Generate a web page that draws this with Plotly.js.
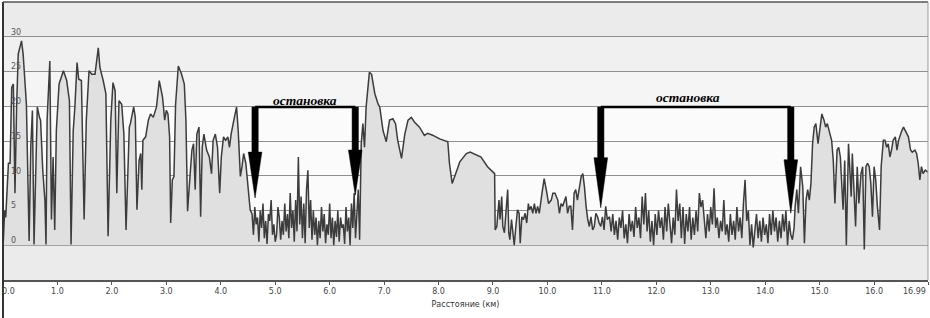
<!DOCTYPE html>
<html>
<head>
<meta charset="utf-8">
<script src="https://cdn.plot.ly/plotly-3.0.1.min.js"></script>
<style>html,body{margin:0;padding:0;background:#fff;}#chart{width:930px;height:318px;}</style>
</head>
<body>
<div id="chart"></div>
<script>
// Distance (km)
const dist = [
  0, 0.03, 0.05, 0.10, 0.13, 0.16, 0.19, 0.22, 0.25, 0.28, 0.34, 0.37, 0.43, 0.48, 0.51, 0.54, 0.57, 0.61, 0.63, 0.67, 0.69, 0.73, 0.77, 0.79, 0.81, 0.86, 0.89, 0.92, 0.95, 0.98,
  1.03, 1.11, 1.17, 1.22, 1.25, 1.29, 1.32, 1.36, 1.39, 1.44, 1.49, 1.53, 1.58, 1.63, 1.69, 1.75, 1.78, 1.84, 1.89, 1.93, 1.98,
  2.02, 2.06, 2.09, 2.13, 2.18, 2.22, 2.26, 2.28, 2.32, 2.34, 2.37, 2.40, 2.43, 2.46, 2.50, 2.53, 2.55, 2.57, 2.62, 2.67, 2.71, 2.76, 2.82, 2.87,
  2.93, 2.97, 3.00, 3.03, 3.06, 3.08, 3.11, 3.14, 3.17, 3.22, 3.28, 3.33, 3.36, 3.39, 3.43, 3.47, 3.50, 3.53, 3.56, 3.60, 3.63, 3.66,
  3.69, 3.74, 3.79, 3.83, 3.86, 3.90, 3.94, 3.98, 4.01, 4.05, 4.09, 4.13, 4.16, 4.19, 4.24, 4.29, 4.32, 4.36, 4.39, 4.42, 4.46, 4.50, 4.54,
  4.575, 4.600, 4.625, 4.650, 4.675, 4.700, 4.725, 4.750, 4.775, 4.800,
  4.825, 4.850, 4.875, 4.900, 4.925, 4.950, 4.975, 5.000, 5.025, 5.050,
  5.075, 5.100, 5.125, 5.150, 5.175, 5.200, 5.225, 5.250, 5.275, 5.300,
  5.325, 5.350, 5.375, 5.400, 5.425, 5.450, 5.475, 5.500, 5.525, 5.550,
  5.575, 5.600, 5.625, 5.650, 5.675, 5.700, 5.725, 5.750, 5.775, 5.800,
  5.825, 5.850, 5.875, 5.900, 5.925, 5.950, 5.975, 6.000, 6.025, 6.050,
  6.075, 6.100, 6.125, 6.150, 6.175, 6.200, 6.225, 6.250, 6.275, 6.300,
  6.325, 6.350, 6.375, 6.400, 6.425, 6.450, 6.475, 6.500, 6.525, 6.550,
  6.58, 6.61, 6.64, 6.67, 6.73, 6.77, 6.83, 6.89, 6.92, 6.98, 7.04, 7.10, 7.16, 7.21, 7.25, 7.32, 7.38, 7.44, 7.50, 7.56, 7.65, 7.74, 7.80, 7.90, 8.02, 8.17, 8.20, 8.25, 8.29, 8.36, 8.39,
  8.45, 8.51, 8.58, 8.66, 8.78, 8.90, 9.03,
  9.04, 9.07, 9.11, 9.13, 9.16, 9.18, 9.21, 9.24, 9.27, 9.29,
  9.31, 9.34, 9.36, 9.39, 9.42, 9.45, 9.48, 9.50, 9.53, 9.56,
  9.59, 9.62, 9.65, 9.67, 9.70, 9.73, 9.76, 9.79, 9.82, 9.85,
  9.90, 9.94, 9.99, 10.02, 10.07, 10.10, 10.14, 10.19, 10.22, 10.25,
  10.28, 10.31, 10.34, 10.37, 10.40, 10.43, 10.46, 10.49, 10.52, 10.55,
  10.59, 10.62, 10.65, 10.68, 10.71, 10.74, 10.77, 10.80, 10.83, 10.86,
  10.89, 10.92, 10.95, 10.98, 11.01, 11.04, 11.07, 11.10, 11.14,
  11.17, 11.20, 11.23, 11.26, 11.29, 11.32, 11.35, 11.38, 11.41, 11.44,
  11.47, 11.50, 11.53, 11.56, 11.59, 11.62, 11.65, 11.68, 11.71, 11.74,
  11.77, 11.80, 11.83, 11.86, 11.89, 11.92, 11.95, 11.98, 12.01, 12.04,
  12.07, 12.10, 12.13, 12.16, 12.19, 12.22, 12.25, 12.28, 12.31, 12.34,
  12.37, 12.40, 12.43, 12.46, 12.49, 12.52, 12.55, 12.58, 12.61, 12.64,
  12.67, 12.70, 12.73, 12.76, 12.79, 12.82, 12.85, 12.88, 12.91, 12.94,
  12.97, 13.00, 13.03, 13.06, 13.09, 13.12, 13.15, 13.18, 13.21, 13.24,
  13.27, 13.30, 13.33, 13.36, 13.39, 13.42, 13.45, 13.48, 13.51, 13.54,
  13.57, 13.60, 13.63, 13.66, 13.69, 13.72, 13.75, 13.78, 13.81, 13.84,
  13.87, 13.90, 13.93, 13.96, 13.99, 14.02, 14.05, 14.08, 14.11, 14.14,
  14.17, 14.20, 14.23, 14.26, 14.29, 14.32, 14.35, 14.38, 14.41, 14.44,
  14.47, 14.50,
  14.53, 14.55, 14.58, 14.61, 14.65, 14.69, 14.72, 14.75, 14.78, 14.81,
  14.84, 14.87, 14.90, 14.93, 14.97, 15.01, 15.04, 15.08, 15.11, 15.14,
  15.19, 15.22, 15.25, 15.28, 15.32, 15.35, 15.38, 15.41, 15.43, 15.46,
  15.49, 15.53, 15.55, 15.58, 15.60, 15.63, 15.66, 15.69, 15.72, 15.76,
  15.79, 15.82, 15.85, 15.88, 15.91, 15.94, 15.97, 16.00, 16.03, 16.06,
  16.10, 16.13, 16.17, 16.20, 16.23, 16.26, 16.29, 16.32, 16.35, 16.39,
  16.42, 16.45, 16.48, 16.51, 16.54, 16.58, 16.63, 16.67, 16.70, 16.75,
  16.78, 16.81, 16.84, 16.87, 16.90, 16.94, 16.98, 16.99
];
// Speed values
const speed = [
  -0.5, 5, 4, 11.8, 11.8, 22.7, 23.2, 7.5, 19.9, 27.5, 29.4, 27.5, 20.3, 0.6, 14.1, 19.4, 0.1, 14.1, 19.9, 18.4, 18, 10.8, 6.5, 0.1, 18, 26.5, 3.7, 12.7, 2.2, 16.5,
  23.2, 25.1, 23.7, 20.8, 0.1, 16.5, 19.9, 26.3, 23.9, 23.7, 3.7, 18, 25.1, 24.6, 24.6, 28.4, 25.6, 23.7, 21.8, 1.3, 18,
  23.4, 22.2, 7.5, 20.8, 20.3, 16, 2.2, 8, 17, 17.5, 18.9, 19.9, 18.4, 5.1, 12.2, 13.2, 8, 15.1, 15.6, 18, 18.9, 18.4, 19.9, 23.7,
  21.3, 18, 19.4, 18.9, 15.6, 3.2, 9.4, 9.9, 20.3, 25.8, 24.6, 23.2, 18, 4.9, 9.4, 13.7, 14.6, 8, 16, 17, 4.1, 14.1,
  16, 13.7, 12.7, 10.3, 15.1, 16, 14.1, 7.5, 12.7, 15.6, 15.1, 15.6, 14.1, 16, 18, 19.9, 16.5, 9.9, 11.3, 13.2, 11.8, 8.4, 5.1,
  4.5, 1.5, 5.5, 3.0, 4.0, 0.5, 5.0, 2.5, 6.0, 1.0,
  3.5, 0.2, 4.5, 3.5, 6.5, 1.5, 3.0, 0.5, 1.5, 5.5,
  4.0, 0.8, 3.5, 1.5, 6.0, 2.0, 4.5, 1.0, 7.5, 2.5,
  5.0, 0.5, 6.5, 2.0, 12.7, 3.0, 7.0, 1.0, 6.0, 0.3,
  8.0, 10.8, 2.5, 6.5, 0.8, 5.0, 1.5, 4.0, 0.0, 3.5,
  1.0, 5.5, 2.0, 4.5, 0.3, 3.0, 1.5, 6.0, 1.0, 4.0,
  0.0, 3.5, 1.2, 5.0, 0.5, 4.0, 2.5, 3.0, 0.2, 5.5,
  2.0, 4.0, 0.0, 6.0, 2.5, 7.5, 1.0, 5.0, 8.0, 0.8,
  14.6, 17.5, 14.1, 19.9, 24.9, 24.6, 21.8, 20.3, 19.9, 16.5, 14.9, 18, 18.2, 17.5, 15.1, 12.5, 16, 18, 18.4, 17.7, 17, 15.8, 16.1, 15.8, 15.3, 14.9, 11.8, 8.9, 9.9, 11.3, 12,
  12.6, 13.2, 13.4, 13.1, 12.7, 11.3, 10.3,
  2.2, 2.7, 6.5, 3.7, 7.0, 2.7, 1.8, 4.6, 8.0, 1.8,
  0.8, 3.7, 1.8, 0.0, 2.7, 5.1, 4.6, 0.3, 4.1, 3.7,
  4.6, 3.2, 6.0, 5.1, 5.6, 4.6, 6.0, 4.6, 5.6, 4.6,
  7.5, 9.6, 7.5, 6.0, 6.5, 7.5, 7.5, 6.5, 4.6, 6.0,
  5.6, 6.5, 7.0, 4.6, 5.6, 5.6, 2.2, 7.5, 8.0, 6.5,
  8.4, 9.9, 10.3, 8.4, 5.6, 3.7, 2.7, 4.1, 2.2, 2.7,
  4.6, 4.1, 3.2, 2.7, 4.1, 2.2, 5.6, 3.7, 4.1,
  2.0, 4.5, 1.5, 3.5, 0.8, 4.0, 2.5, 5.0, 1.0, 3.0,
  0.3, 4.5, 2.0, 3.5, 1.2, 5.5, 2.5, 4.0, 1.0, 7.0,
  3.0, 7.5, 2.0, 5.0, 0.5, 3.5, 0.0, 4.5, 1.5, 5.0,
  2.5, 4.0, 0.8, 5.5, 2.0, 6.0, 3.0, 0.3, 4.0, 1.5,
  8.0, 3.5, 6.0, 1.0, 5.5, 0.2, 4.5, 2.0, 5.5, 0.8,
  4.0, 1.5, 5.0, 2.0, 7.5, 5.5, 6.5, 3.0, 1.0, 4.5,
  2.0, 5.5, 3.0, 8.2, 2.5, 4.0, 1.0, 3.5, 2.0, 6.5,
  1.5, 3.0, 0.5, 4.5, 1.5, 3.5, 0.8, 5.5, 2.0, 4.0,
  1.0, 6.0, 9.4, 3.5, 5.0, 0.0, 3.0, -0.3, 2.5, 4.5,
  1.0, 3.5, 0.5, 4.0, 1.5, 3.0, 0.3, 4.5, 1.5, 5.0,
  2.0, 4.0, 0.5, 3.5, 1.0, 4.5, 2.0, 5.0, 0.0, 3.5,
  1.5, 0.8,
  2.5, 5.6, 8.0, 4.6, 11.3, 8.4, 0.3, 6.5, 8.0, 6.5,
  8.9, 14.6, 17.0, 17.5, 14.6, 17.5, 18.9, 18.0, 17.0, 17.5,
  16.0, 15.1, 12.2, 6.0, 13.7, 14.1, 12.7, 8.4, 5.1, 12.2,
  0.0, 14.6, 10.8, 7.0, 13.2, 8.9, 2.7, 11.3, 6.0, 10.3,
  11.3, -0.6, 11.3, 11.8, 11.3, 8.9, 4.1, 11.3, 9.4, 5.6,
  2.2, 11.3, 15.1, 15.1, 14.1, 14.6, 12.7, 13.7, 15.1, 15.6,
  13.7, 15.1, 16.0, 16.5, 17.0, 16.3, 15.6, 13.7, 13.4, 13.7,
  13.2, 11.8, 9.4, 11.3, 10.3, 10.8, 10.6, 10.5
];
// Tick labels
const xTickVals = [0,1,2,3,4,5,6,7,8,9,10,11,12,13,14,15,16,16.99];
const xTickText = ['0.0','1.0','2.0','3.0','4.0','5.0','6.0','7.0','8.0','9.0','10.0','11.0','12.0','13.0','14.0','15.0','16.0','16.99'];
const yTickVals = [0,5,10,15,20,25,30];
const yTickText = ['0','5','10','15','20','25','30'];
// Stop annotations
const stopLabel = 'остановка';
const stops = [
  {from: 4.63, to: 6.47, top: 19.9, labelX: 5.55, labelY: 20.9, tips: [[13.4, 6.8], [13.7, 7.2]]},
  {from: 10.98, to: 14.47, top: 19.9, labelX: 12.59, labelY: 21.3, tips: [[12.6, 5.4], [12.3, 4.6]]}
];

const shapes = [];
// background bands
[[30,35,'#ebebeb'],[25,30,'#f0f0f0'],[20,25,'#f5f5f5'],[-5,0,'#ebebeb']].forEach(b => {
  shapes.push({type:'rect', xref:'paper', yref:'y', x0:0, x1:1, y0:b[0], y1:b[1], fillcolor:b[2], line:{width:0}, layer:'below'});
});
const sw = 0.058, hw = 0.125;
stops.forEach(s => {
  shapes.push({type:'line', xref:'x', yref:'y', x0:s.from, x1:s.to, y0:s.top, y1:s.top, line:{color:'#000', width:2.5}});
  [s.from, s.to].forEach((x, i) => {
    const head = s.tips[i][0], tip = s.tips[i][1];
    const p = `M ${x-sw},${s.top} L ${x+sw},${s.top} L ${x+sw},${head} L ${x+hw},${head} L ${x},${tip} L ${x-hw},${head} L ${x-sw},${head} Z`;
    shapes.push({type:'path', xref:'x', yref:'y', path:p, fillcolor:'#000', line:{color:'#000', width:0.5}});
  });
});
// frame
shapes.push({type:'line', xref:'paper', yref:'paper', x0:0, x1:0, y0:-0.15, y1:1, line:{color:'#333', width:2}});
shapes.push({type:'line', xref:'paper', yref:'paper', x0:0, x1:1, y0:1, y1:1, line:{color:'#555', width:1.5}});
shapes.push({type:'line', xref:'paper', yref:'paper', x0:1, x1:1, y0:0, y1:1, line:{color:'#999', width:1}});

const annotations = stops.map(s => ({
  x: s.labelX, y: s.labelY, xref:'x', yref:'y', text: stopLabel, showarrow:false,
  font:{family:'Liberation Serif, DejaVu Serif, serif', size:13.5, color:'#000', weight:'bold', style:'italic'}
}));
annotations.push({x: xTickVals[0], y:0, xref:'x', yref:'paper', xanchor:'left', yanchor:'top', yshift:-5, xshift:-3,
  text: xTickText[0], showarrow:false, font:{family:'DejaVu Sans', size:8, color:'#444'}});
annotations.push({x: xTickVals[xTickVals.length-1], y:0, xref:'x', yref:'paper', xanchor:'right', yanchor:'top', yshift:-5, xshift:0,
  text: xTickText[xTickText.length-1], showarrow:false, font:{family:'DejaVu Sans', size:8, color:'#444'}});

const axisText = xTickText.map((t, i) => (i === 0 || i === xTickText.length-1) ? '' : t);

const trace = {
  x: dist, y: speed, type:'scatter', mode:'lines',
  line:{color:'#3c3c3c', width:1.5},
  fill:'tozeroy', fillcolor:'#e0e0e0', hoverinfo:'skip'
};

const layout = {
  width:930, height:318,
  margin:{l:3, r:2, t:2, b:38},
  paper_bgcolor:'#ffffff', plot_bgcolor:'#fbfbfb',
  showlegend:false,
  font:{family:'DejaVu Sans', size:8, color:'#444'},
  xaxis:{
    range:[0,16.99], tickmode:'array', tickvals:xTickVals, ticktext:axisText,
    ticks:'outside', ticklen:3, tickcolor:'#555', showgrid:false, zeroline:false,
    showline:true, linecolor:'#555', linewidth:1.5,
    tickfont:{family:'DejaVu Sans', size:8, color:'#444'},
    title:{text:'Расстояние (км)', font:{family:'DejaVu Sans', size:8, color:'#333'}, standoff:6}
  },
  yaxis:{
    range:[-5,35], tickmode:'array', tickvals:yTickVals, ticktext:yTickText,
    ticklabelposition:'inside', ticklabelshift:-5, ticklabelstandoff:5, ticks:'',
    showgrid:true, gridcolor:'#8f8f8f', gridwidth:1, zeroline:false, showline:false,
    tickfont:{family:'DejaVu Sans', size:8, color:'#555'}
  },
  shapes: shapes,
  annotations: annotations
};

Plotly.newPlot('chart', [trace], layout, {staticPlot:true, displayModeBar:false});
</script>
</body>
</html>
